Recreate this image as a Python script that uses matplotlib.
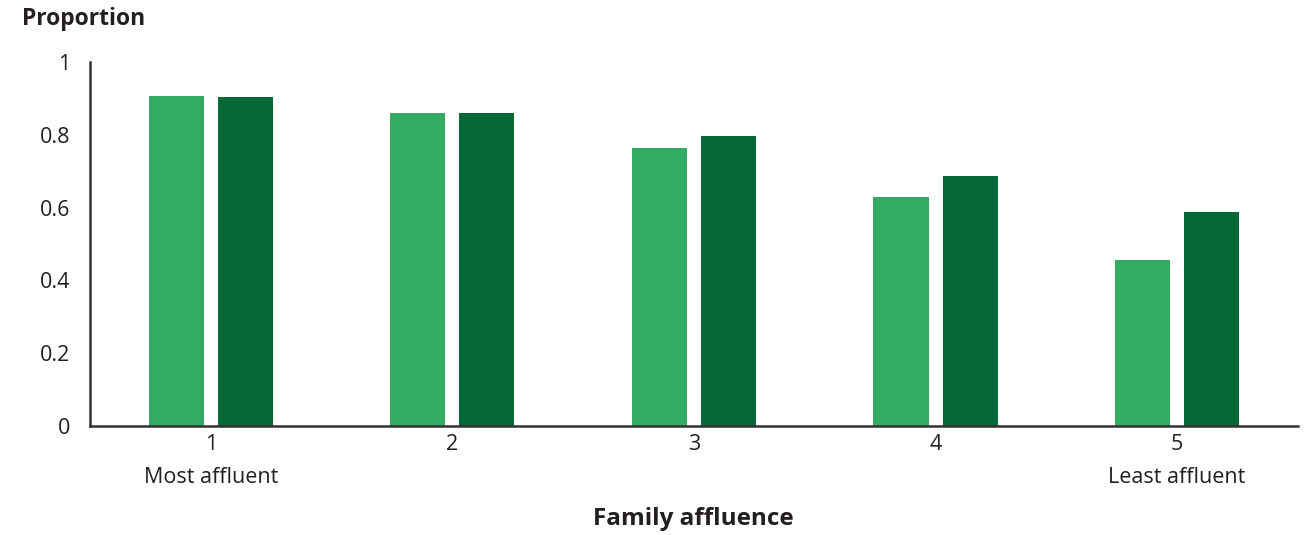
import numpy as np
import matplotlib.pyplot as plt

# Daten
groups = ["1\nMost affluent", "2", "3", "4", "5\nLeast affluent"]
series_a = [0.907, 0.86, 0.764, 0.629, 0.456]
series_b = [0.904, 0.86, 0.797, 0.687, 0.588]
y_ticks = [0, 0.2, 0.4, 0.6, 0.8, 1]
y_labels = ["0", "0.2", "0.4", "0.6", "0.8", "1"]

plt.rcParams['font.family'] = ['Open Sans', 'DejaVu Sans']
txt = '#231f20'

fig = plt.figure(figsize=(13.11, 5.35), dpi=100)
ax = fig.add_axes([0.0687, 0.2037, 0.9213, 0.6803])

x = np.arange(len(groups))
w = 0.228
ax.bar(x - 0.143, series_a, w, color='#33ab63')
ax.bar(x + 0.143, series_b, w, color='#066835')

ax.set_xlim(-0.5, 4.5)
ax.set_ylim(0, 1)
ax.set_yticks(y_ticks)
ax.set_yticklabels(y_labels, fontsize=15.5, color=txt)
ax.set_xticks(x)
ax.set_xticklabels(groups, fontsize=15.5, color=txt, linespacing=1.75)
ax.tick_params(axis='both', length=0)
ax.tick_params(axis='y', pad=14)
ax.tick_params(axis='x', pad=6)

for s in ['top', 'right']:
    ax.spines[s].set_visible(False)
for s in ['left', 'bottom']:
    ax.spines[s].set_color('#333333')
    ax.spines[s].set_linewidth(1.8)

fig.text(0.017, 0.965, 'Proportion', fontsize=16.5, fontweight='bold', color=txt, va='center')
fig.text(0.529, 0.03, 'Family affluence', fontsize=17.5, fontweight='bold', color=txt, ha='center', va='center')

fig.savefig('out.png', dpi=100)
